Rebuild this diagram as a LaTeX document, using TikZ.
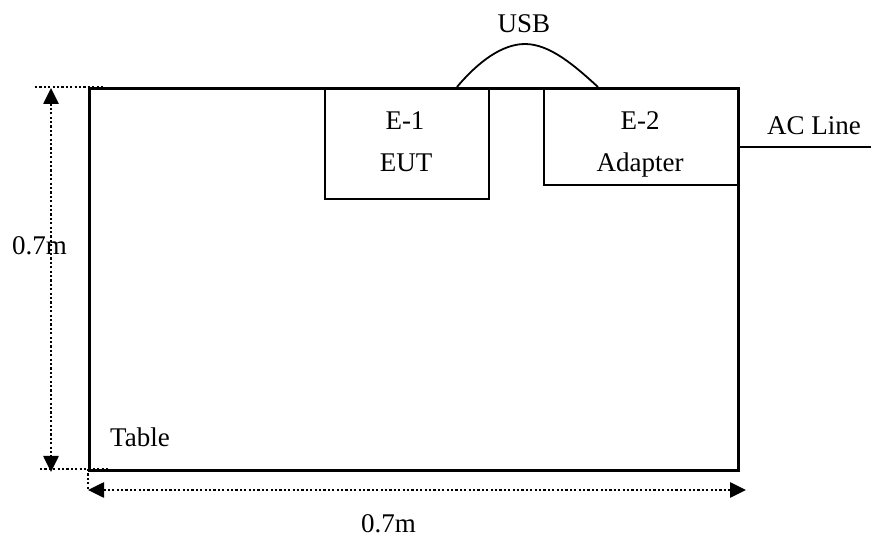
\documentclass[tikz,border=0pt]{standalone}
\usepackage{fontspec}
\setmainfont{Liberation Serif}
\usetikzlibrary{arrows.meta}
\begin{document}
\begin{tikzpicture}[x=1pt,y=-1pt,
  lbl/.style={inner sep=0pt,anchor=base,font=\fontsize{27}{30}\selectfont},
  boxline/.style={line width=2pt},
  dotline/.style={line width=2.6pt,dash pattern=on 2.2pt off 2.2pt},
  dimarrow/.style={dotline,{Triangle[width=15pt,length=16pt]}-{Triangle[width=15pt,length=16pt]}},
  cable/.style={line width=1.8pt}]
\useasboundingbox (0,0) rectangle (871,537);
% table
\node[draw,line width=2.6pt,minimum width=649pt,minimum height=382pt,inner sep=0pt,anchor=north west] (table) at (88,87) {};
% equipment boxes
\node[draw,boxline,minimum width=164pt,minimum height=110pt,inner sep=0pt,anchor=north west] (e1) at (324,88) {};
\node[draw,boxline,minimum width=194pt,minimum height=96pt,inner sep=0pt,anchor=north west] (e2) at (543,88) {};
% labels inside
\node[lbl] (e1a) at (405,130) {E-1};
\node[lbl] (e1b) at (406,172) {EUT};
\node[lbl] (e2a) at (640,130) {E-2};
\node[lbl] (e2b) at (640,172) {Adapter};
\node[lbl,anchor=base west] (tbl) at (110,447) {Table};
% USB cable
\coordinate (u1) at (457,87);
\coordinate (u2) at (598,87);
\draw[cable] (u1) .. controls (478,62) and (502,44) .. (525,44) .. controls (550,44) and (575,66) .. (u2);
\node[lbl] (usb) at (524,33) {USB};
% AC line
\coordinate (ac1) at (737,147);
\coordinate (ac2) at (871,147);
\draw[cable] (ac1) -- (ac2);
\node[lbl,anchor=base west] (acl) at (767,135) {AC Line};
% dimension lines
\coordinate (t1) at (35,87);
\coordinate (t2) at (105,87);
\coordinate (b1) at (40,469);
\coordinate (b2) at (110,469);
\draw[dotline] (t1) -- (t2);
\draw[dotline] (b1) -- (b2);
\coordinate (va) at (51,88);
\coordinate (vb) at (51,472);
\draw[dimarrow] (va) -- (vb);
\coordinate (s1) at (88,469);
\coordinate (s2) at (88,490);
\draw[dotline] (s1) -- (s2);
\coordinate (ha) at (88,490);
\coordinate (hb) at (746,490);
\draw[dimarrow] (ha) -- (hb);
\node[lbl,anchor=base west] (dimv) at (12,255) {0.7m};
\node[lbl,anchor=base west] (dimh) at (361,532) {0.7m};
\end{tikzpicture}
\end{document}
